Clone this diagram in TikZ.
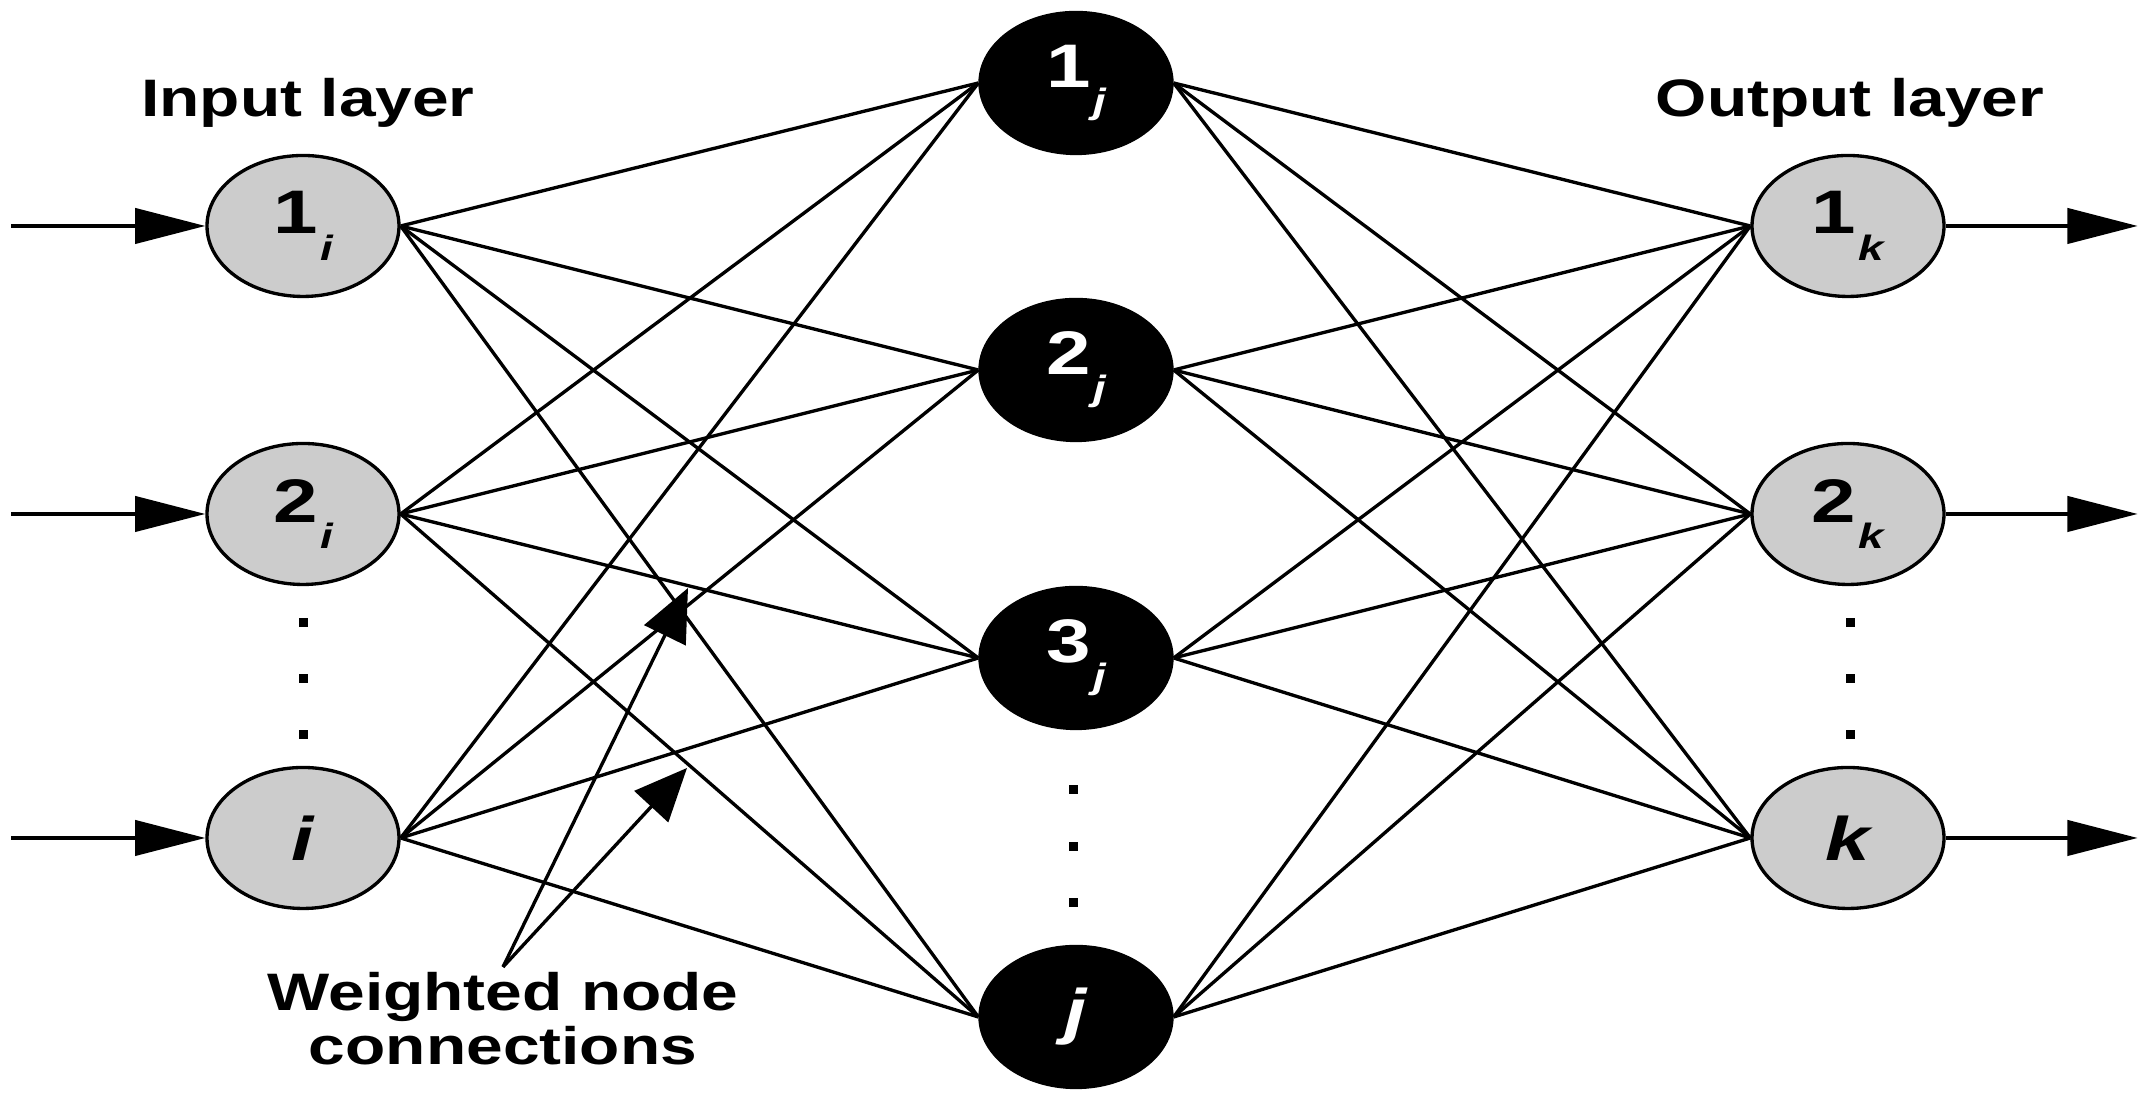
\documentclass[tikz,border=0pt]{standalone}
\usepackage{fontspec}
\usepackage{graphicx}
\setmainfont{Liberation Sans}
\usetikzlibrary{shapes.geometric}
\usetikzlibrary{arrows.meta}
\usetikzlibrary{positioning}

\definecolor{nodegray}{RGB}{204,204,204}
\newcommand{\wide}[1]{\scalebox{1.25}[1]{#1}}
\newcommand{\nlab}[2]{\scalebox{1.3}[1]{\fontsize{17.5}{17.5}\selectfont\bfseries #1\kern0.6pt\raisebox{-7.5pt}{\fontsize{10}{10}\selectfont\itshape #2}}}
\newcommand{\nbig}[1]{\scalebox{1.3}[1]{\fontsize{17.5}{17.5}\selectfont\bfseries\itshape #1}}

\begin{document}
\begin{tikzpicture}[
        layer/.style={ellipse, draw, line width=0.95pt, fill=nodegray,
            minimum width=1.92cm, minimum height=1.41cm, inner sep=0pt},
        hidden/.style={layer, fill=black, text=white},
        link/.style={line width=0.95pt},
        io/.style={line width=1.1pt, -{Triangle[length=20pt,width=10pt]}},
        wgt/.style={line width=0.95pt, -{Triangle[length=15pt,width=13pt]}},
        title/.style={font=\fontsize{15}{15.6}\selectfont\bfseries, inner sep=0pt}
    ]
        % Parameters
        \def\xin{3.03}   % x of input layer
        \def\xhid{10.76} % x of hidden layer
        \def\xout{18.48} % x of output layer
        \def\d{0.09}     % size of the dots

        \useasboundingbox (0,0) rectangle (21.5,11.04);

        % Input and output layers
        \foreach \n/\y in {1/8.78, 2/5.90} {
            \node[layer] (in\n) at (\xin,\y) {\nlab{\n}{i}};
            \node[layer] (out\n) at (\xout,\y) {\nlab{\n}{k}};
        }
        \node[layer] (in3) at (\xin,2.66) {\nbig{i}};
        \node[layer] (out3) at (\xout,2.66) {\nbig{k}};

        % Hidden layer
        \foreach \n/\y in {1/10.21, 2/7.34, 3/4.46}
            \node[hidden] (hid\n) at (\xhid,\y) {\nlab{\n}{j}};
        \node[hidden] (hid4) at (\xhid,0.87) {\nbig{j}};

        % Dots between the nodes
        \foreach \y in {4.81, 4.25, 3.69} {
            \fill (\xin-\d/2,\y-\d/2) rectangle ++(\d,\d);
            \fill (\xout-\d/2+0.02,\y-\d/2) rectangle ++(\d,\d);
        }
        \foreach \y in {3.14, 2.57, 2.01}
            \fill (\xhid-\d/2-0.03,\y-\d/2) rectangle ++(\d,\d);

        % Weighted connections
        \foreach \a in {1,2,3} {
            \foreach \b in {1,2,3,4} {
                \draw[link] (in\a.east) -- (hid\b.west);
                \draw[link] (hid\b.east) -- (out\a.west);
            }
        }

        % Inputs and outputs
        \foreach \n in {1,2,3} {
            \coordinate (src\n) at ([xshift=-1.94cm]in\n.west);
            \coordinate (dst\n) at ([xshift=1.92cm]out\n.east);
            \draw[io] (src\n) -- (in\n.west);
            \draw[io] (out\n.east) -- (dst\n);
        }

        % Labels
        \node[title, anchor=base] (inlbl) at (3.08,9.87) {\wide{Input layer}};
        \node[title, anchor=base] (outlbl) at (18.50,9.87) {\wide{Output layer}};
        \node[title, align=center, anchor=north, inner ysep=1.2pt] (wlbl) at (5.03,1.37)
            {\wide{Weighted node}\\\wide{connections}};

        % Pointers to the connections
        \coordinate (wtip1) at (6.88,5.16);
        \coordinate (wtip2) at (6.87,3.36);
        \draw[wgt] (wlbl.north) -- (wtip1);
        \draw[wgt] (wlbl.north) -- (wtip2);
    \end{tikzpicture}
\end{document}
